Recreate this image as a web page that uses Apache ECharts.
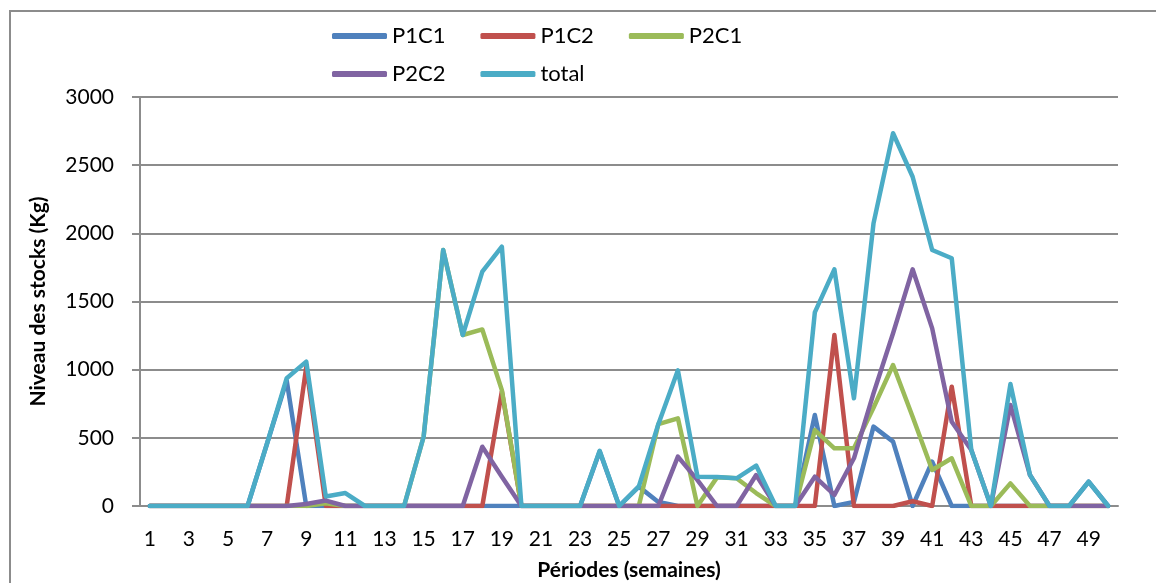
<!DOCTYPE html>
<html>
<head>
<meta charset="utf-8">
<script src="https://cdn.jsdelivr.net/npm/echarts@6/dist/echarts.min.js"></script>
<style>
    html, body { margin: 0; padding: 0; background: #fff; }
    #chart { width: 1156px; height: 583px; }
</style>
</head>
<body>
<div id="chart"></div>
<script>
// periods (weeks)
const periodes = ['1', '2', '3', '4', '5', '6', '7', '8', '9', '10',
    '11', '12', '13', '14', '15', '16', '17', '18', '19', '20',
    '21', '22', '23', '24', '25', '26', '27', '28', '29', '30',
    '31', '32', '33', '34', '35', '36', '37', '38', '39', '40',
    '41', '42', '43', '44', '45', '46', '47', '48', '49', '50'];

// stock levels (Kg)
const p1c1 = [0, 0, 0, 0, 0, 0, 460, 920, 0, 0,
    0, 0, 0, 0, 0, 0, 0, 0, 0, 0,
    0, 0, 0, 400, 0, 142, 30, 0, 0, 0,
    0, 0, 0, 0, 667, 0, 30, 582, 472, 0,
    325, 0, 0, 0, 0, 0, 0, 0, 178, 0];
const p1c2 = [0, 0, 0, 0, 0, 0, 0, 0, 1020, 0,
    0, 0, 0, 0, 0, 0, 0, 0, 840, 0,
    0, 0, 0, 0, 0, 0, 0, 0, 0, 0,
    0, 0, 0, 0, 0, 1254, 0, 0, 0, 35,
    0, 875, 0, 0, 0, 0, 0, 0, 0, 0];
const p2c1 = [0, 0, 0, 0, 0, 0, 0, 0, 0, 20,
    0, 0, 0, 0, 508, 1878, 1254, 1295, 850, 0,
    0, 0, 0, 0, 0, 0, 600, 643, 0, 210,
    203, 95, 0, 0, 557, 423, 423, 720, 1034, 655,
    264, 350, 0, 0, 166, 0, 0, 0, 0, 0];
const p2c2 = [0, 0, 0, 0, 0, 0, 0, 0, 15, 40,
    0, 0, 0, 0, 0, 0, 0, 435, 215, 0,
    0, 0, 0, 0, 0, 0, 0, 362, 190, 0,
    0, 227, 0, 0, 215, 81, 350, 826, 1267, 1736,
    1303, 618, 411, 0, 741, 227, 0, 0, 0, 0];
const total = [0, 0, 0, 0, 0, 0, 460, 937, 1059, 70,
    95, 0, 0, 0, 508, 1878, 1254, 1719, 1902, 0,
    0, 0, 0, 405, 0, 142, 600, 995, 215, 213,
    203, 297, 0, 0, 1420, 1736, 790, 2073, 2734, 2415,
    1878, 1817, 411, 0, 895, 227, 0, 0, 178, 0];

const seriesNames = ['P1C1', 'P1C2', 'P2C1', 'P2C2', 'total'];
const seriesData = [p1c1, p1c2, p2c1, p2c2, total];
const colors = ['#4F81BD', '#C0504D', '#9BBB59', '#8064A2', '#4BACC6'];

const font = 'Lato, "Open Sans", sans-serif';
const grey = '#8c8c8c';

// legend is split into two rows like the original
function legendRow(top, names) {
    return {
        left: 327,
        top: top,
        itemWidth: 55,
        itemHeight: 6,
        itemGap: 35,
        icon: 'roundRect',
        textStyle: { fontSize: 22, fontFamily: font, color: '#000' },
        data: names,
    };
}

let chart = echarts.init(document.getElementById('chart'));

const option = {
    animation: false,
    color: colors,
    textStyle: { fontFamily: font, color: '#000' },
    // outer frame of the chart area
    graphic: [{
        type: 'rect',
        shape: { x: 10, y: 11, width: 1300, height: 700 },
        style: { fill: 'none', stroke: grey, lineWidth: 2 },
        silent: true,
    }],
    legend: [
        legendRow(20, seriesNames.slice(0, 3)),
        legendRow(58, seriesNames.slice(3)),
    ],
    grid: { left: 140, right: 38, top: 97, bottom: 77, outerBoundsMode: 'none' },
    xAxis: {
        type: 'category',
        data: periodes,
        boundaryGap: true,
        name: 'Périodes (semaines)',
        nameLocation: 'middle',
        nameGap: 54,
        nameTextStyle: { fontSize: 21, fontWeight: 'bold', fontFamily: font, color: '#000' },
        axisLine: { lineStyle: { color: grey, width: 2 } },
        axisTick: { show: false },
        axisLabel: { interval: 1, fontSize: 21, margin: 23, color: '#000' },
    },
    yAxis: {
        type: 'value',
        min: 0,
        max: 3000,
        interval: 500,
        name: 'Niveau des stocks (Kg)',
        nameLocation: 'middle',
        nameGap: 91,
        nameTextStyle: { fontSize: 21, fontWeight: 'bold', fontFamily: font, color: '#000' },
        axisLine: { show: true, lineStyle: { color: grey, width: 2 } },
        axisTick: { show: true, length: 8, lineStyle: { color: grey, width: 2 } },
        axisLabel: {
            fontSize: 21,
            margin: 26,
            color: '#000',
            formatter: function (v) { return String(v); },
        },
        splitLine: { lineStyle: { color: grey, width: 2 } },
    },
    series: seriesNames.map(function (name, i) {
        return {
            name: name,
            type: 'line',
            data: seriesData[i],
            symbol: 'none',
            lineStyle: { width: 4.5, cap: 'round', join: 'round' },
            z: 2 + i,
        };
    }),
};

chart.setOption(option);
</script>
</body>
</html>
